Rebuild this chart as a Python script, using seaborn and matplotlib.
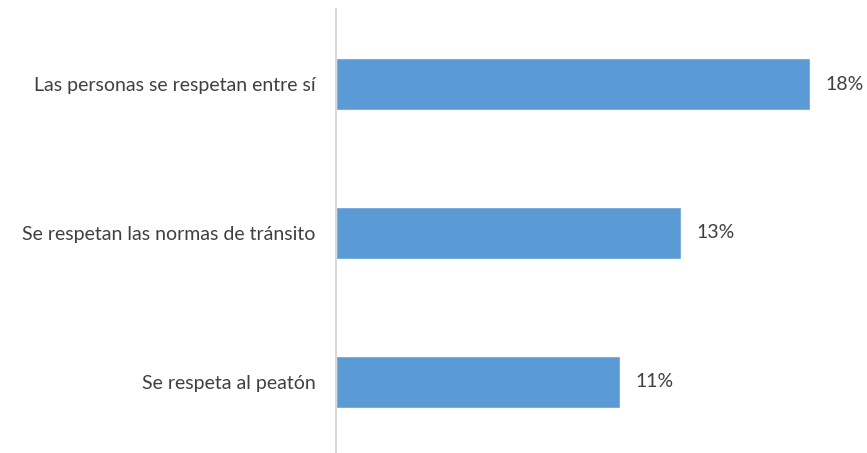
import pandas as pd
import matplotlib.pyplot as plt
import seaborn as sns

# categories and values
categories = ["Las personas se respetan entre sí",
              "Se respetan las normas de tránsito",
              "Se respeta al peatón"]
values = [18.0, 13.1, 10.8]
value_labels = ["18%", "13%", "11%"]

df = pd.DataFrame({"categoria": categories, "valor": values})

sns.set_style("white")
plt.rcParams['font.family'] = ['Lato', 'DejaVu Sans']

fig = plt.figure(figsize=(8.67, 4.53), dpi=100)
ax = fig.add_axes([336/867, 0, 526.7/867, 444/453])

sns.barplot(data=df, x="valor", y="categoria", color="#5B9BD5",
            width=0.35, saturation=1, ax=ax)

ax.set_xlim(0, 20)
ax.set_ylim(2 + 71/149, -75/149)

# value labels to the right of each bar
for i, (v, lab) in enumerate(zip(values, value_labels)):
    ax.text(v + 15/26.33, i, lab, va="center", ha="left",
            fontsize=14, color="#404040")

ax.set_xlabel("")
ax.set_ylabel("")
ax.set_xticks([])
ax.tick_params(axis="y", length=0, pad=14.5, labelsize=14, labelcolor="#404040")
for s in ["top", "right", "bottom"]:
    ax.spines[s].set_visible(False)
ax.spines["left"].set_color("#D9D9D9")
ax.spines["left"].set_linewidth(1.5)

fig.savefig("out.png", dpi=100)
